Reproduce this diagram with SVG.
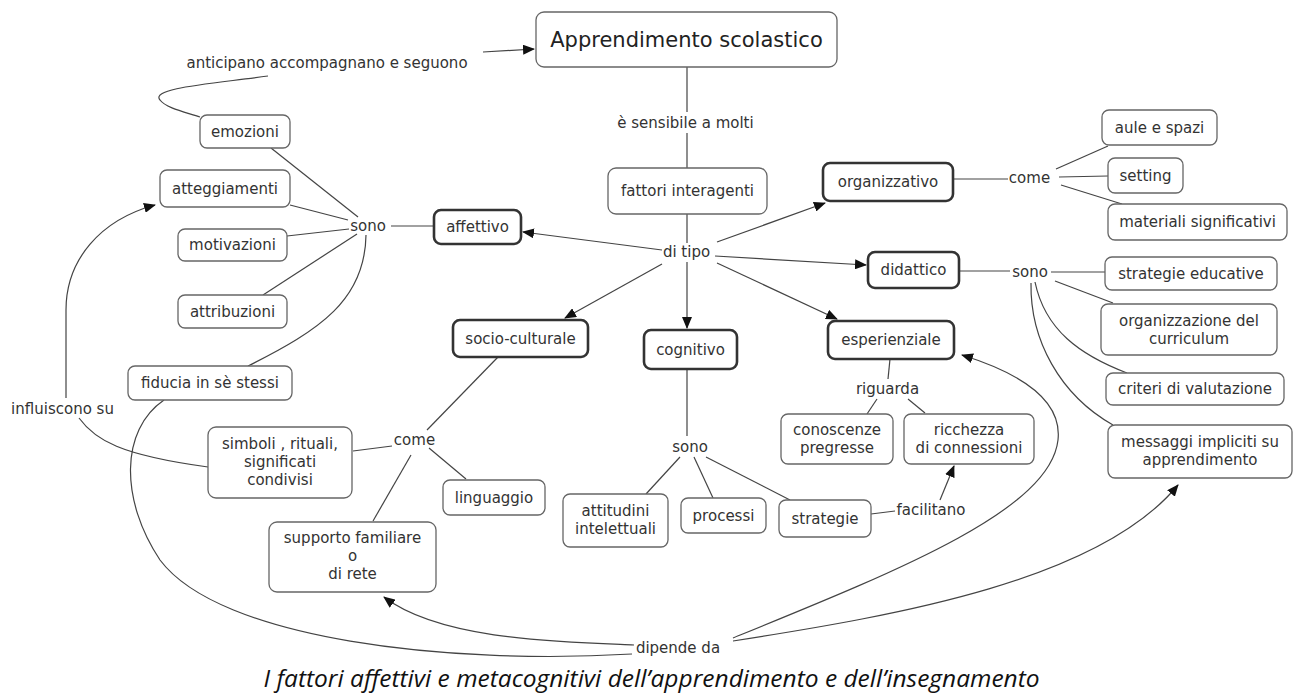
<svg xmlns="http://www.w3.org/2000/svg" width="1295" height="693" viewBox="0 0 1295 693">
<style>
  .n rect { fill: #fff; stroke: #666; stroke-width: 1.3; }
  .b rect { stroke: #333; stroke-width: 2.6; }
  text { font-family: "DejaVu Sans", Verdana, sans-serif; font-size: 15px; fill: #333; text-anchor: middle; }
  .title { font-size: 21px; fill: #222; }
  .lk { font-size: 15px; }
  #connectors path, #connectors line { fill: none; stroke: #444; stroke-width: 1.2; }
  .cap { font-family: "Open Sans", "Liberation Sans", sans-serif; font-style: italic; font-size: 24.5px; fill: #111; }
</style>
<defs>
  <marker id="ah" viewBox="0 0 12 10" refX="11" refY="5" markerWidth="12" markerHeight="10" markerUnits="userSpaceOnUse" orient="auto">
    <path d="M0,0 L12,5 L0,10 z" fill="#111"/>
  </marker>
</defs>
<rect width="1295" height="693" fill="#fff"/>

<g id="connectors">
  <line x1="483" y1="52" x2="534" y2="49" marker-end="url(#ah)"/>
  <path d="M268,76 C210,84 150,88 160,100 C166,108 185,112 200,117"/>
  <line x1="687" y1="67" x2="687" y2="112"/>
  <line x1="687" y1="133" x2="687" y2="168"/>
  <line x1="687" y1="214" x2="687" y2="243"/>
  <line x1="662" y1="250" x2="523" y2="232" marker-end="url(#ah)"/>
  <line x1="717" y1="242" x2="825" y2="203" marker-end="url(#ah)"/>
  <line x1="715" y1="256" x2="866" y2="265" marker-end="url(#ah)"/>
  <line x1="717" y1="263" x2="837" y2="319" marker-end="url(#ah)"/>
  <line x1="687" y1="262" x2="687" y2="328" marker-end="url(#ah)"/>
  <line x1="662" y1="264" x2="565" y2="318" marker-end="url(#ah)"/>
  <line x1="953" y1="179" x2="1008" y2="179"/>
  <line x1="1056" y1="169" x2="1108" y2="146"/>
  <line x1="1059" y1="177" x2="1108" y2="176"/>
  <line x1="1061" y1="185" x2="1122" y2="204"/>
  <line x1="959" y1="271" x2="1010" y2="271"/>
  <line x1="1051" y1="272" x2="1105" y2="272"/>
  <line x1="1055" y1="281" x2="1113" y2="303"/>
  <path d="M1035,282 C1045,330 1080,355 1127,373"/>
  <path d="M1031,283 C1030,340 1060,395 1113,425"/>
  <line x1="391" y1="226" x2="434" y2="226"/>
  <line x1="271" y1="148" x2="358" y2="217"/>
  <line x1="290" y1="205" x2="348" y2="220"/>
  <line x1="287" y1="236" x2="349" y2="229"/>
  <line x1="263" y1="295" x2="357" y2="234"/>
  <path d="M366,235 C365,300 320,330 248,366"/>
  <path d="M66,398 L66,310 C66,260 100,220 155,205" marker-end="url(#ah)"/>
  <path d="M79,418 C95,440 120,455 208,467"/>
  <line x1="498" y1="357" x2="427" y2="430"/>
  <line x1="353" y1="451" x2="392" y2="446"/>
  <line x1="429" y1="448" x2="466" y2="479"/>
  <line x1="411" y1="455" x2="373" y2="521"/>
  <line x1="687" y1="369" x2="687" y2="436"/>
  <line x1="680" y1="457" x2="646" y2="494"/>
  <line x1="694" y1="457" x2="713" y2="498"/>
  <line x1="706" y1="457" x2="790" y2="500"/>
  <line x1="890" y1="359" x2="888" y2="379"/>
  <line x1="877" y1="399" x2="867" y2="414"/>
  <line x1="908" y1="399" x2="925" y2="413"/>
  <line x1="871" y1="514" x2="895" y2="511"/>
  <line x1="940" y1="500" x2="954" y2="466" marker-end="url(#ah)"/>
  <path d="M634,645 C560,642 440,640 384,597" marker-end="url(#ah)"/>
  <path d="M164,400 C120,430 120,500 160,560 C220,640 450,665 632,654"/>
  <path d="M733,638 C900,570 1050,510 1058,440 C1063,395 1010,370 962,355" marker-end="url(#ah)"/>
  <path d="M733,641 C900,615 1100,580 1178,485" marker-end="url(#ah)"/>
</g>

<g id="n-title" class="n"><rect x="536" y="12" width="301" height="55" rx="8"/><text class="title" x="686.5" y="47">Apprendimento scolastico</text></g>
<g id="n-emozioni" class="n"><rect x="200" y="115" width="90" height="33" rx="7"/><text x="245" y="136.5">emozioni</text></g>
<g id="n-atteggiamenti" class="n"><rect x="160" y="170" width="130" height="37" rx="7"/><text x="225" y="193.5">atteggiamenti</text></g>
<g id="n-motivazioni" class="n"><rect x="178" y="229" width="109" height="32" rx="7"/><text x="232.5" y="250">motivazioni</text></g>
<g id="n-attribuzioni" class="n"><rect x="178" y="295" width="109" height="33" rx="7"/><text x="232.5" y="316.5">attribuzioni</text></g>
<g id="n-fiducia" class="n"><rect x="128" y="366" width="164" height="34" rx="7"/><text x="210" y="388">fiducia in sè stessi</text></g>
<g id="n-affettivo" class="n b"><rect x="434" y="210" width="87" height="34" rx="7"/><text x="477.5" y="232">affettivo</text></g>
<g id="n-fattori" class="n"><rect x="608" y="168" width="159" height="46" rx="8"/><text x="687.5" y="196">fattori interagenti</text></g>
<g id="n-organizzativo" class="n b"><rect x="823" y="163" width="130" height="38" rx="7"/><text x="888" y="187">organizzativo</text></g>
<g id="n-aule" class="n"><rect x="1102" y="110" width="115" height="35" rx="7"/><text x="1159.5" y="132.5">aule e spazi</text></g>
<g id="n-setting" class="n"><rect x="1108" y="158" width="75" height="35" rx="7"/><text x="1145.5" y="180.5">setting</text></g>
<g id="n-materiali" class="n"><rect x="1108" y="204" width="179" height="36" rx="7"/><text x="1197.5" y="227">materiali significativi</text></g>
<g id="n-didattico" class="n b"><rect x="868" y="252" width="91" height="36" rx="7"/><text x="913.5" y="275">didattico</text></g>
<g id="n-strategie-edu" class="n"><rect x="1105" y="257" width="172" height="33" rx="7"/><text x="1191" y="278.5">strategie educative</text></g>
<g id="n-curriculum" class="n"><rect x="1101" y="304" width="176" height="51" rx="7"/><text x="1189" y="326">organizzazione del</text><text x="1189" y="344">curriculum</text></g>
<g id="n-criteri" class="n"><rect x="1106" y="373" width="178" height="32" rx="7"/><text x="1195" y="394">criteri di valutazione</text></g>
<g id="n-messaggi" class="n"><rect x="1108" y="425" width="184" height="53" rx="7"/><text x="1200" y="447">messaggi impliciti su</text><text x="1200" y="465">apprendimento</text></g>
<g id="n-socio" class="n b"><rect x="453" y="320" width="135" height="37" rx="7"/><text x="520.5" y="343.5">socio-culturale</text></g>
<g id="n-cognitivo" class="n b"><rect x="644" y="330" width="93" height="39" rx="7"/><text x="690.5" y="354.5">cognitivo</text></g>
<g id="n-esperienziale" class="n b"><rect x="828" y="321" width="126" height="38" rx="7"/><text x="891" y="345">esperienziale</text></g>
<g id="n-conoscenze" class="n"><rect x="781" y="414" width="112" height="50" rx="7"/><text x="837" y="435">conoscenze</text><text x="837" y="453">pregresse</text></g>
<g id="n-ricchezza" class="n"><rect x="904" y="414" width="130" height="50" rx="7"/><text x="969" y="435">ricchezza</text><text x="969" y="453">di connessioni</text></g>
<g id="n-attitudini" class="n"><rect x="563" y="494" width="105" height="53" rx="7"/><text x="615.5" y="516">attitudini</text><text x="615.5" y="534">intelettuali</text></g>
<g id="n-processi" class="n"><rect x="681" y="498" width="85" height="35" rx="7"/><text x="723.5" y="520.5">processi</text></g>
<g id="n-strategie" class="n"><rect x="779" y="500" width="92" height="37" rx="7"/><text x="825" y="523.5">strategie</text></g>
<g id="n-simboli" class="n"><rect x="208" y="427" width="144" height="71" rx="8"/><text x="280" y="449">simboli , rituali,</text><text x="280" y="467">significati</text><text x="280" y="485">condivisi</text></g>
<g id="n-linguaggio" class="n"><rect x="443" y="480" width="102" height="35" rx="7"/><text x="494" y="502.5">linguaggio</text></g>
<g id="n-supporto" class="n"><rect x="269" y="522" width="167" height="70" rx="8"/><text x="352.5" y="543">supporto familiare</text><text x="352.5" y="561">o</text><text x="352.5" y="579">di rete</text></g>

<g id="links">
  <text class="lk" x="327" y="68">anticipano accompagnano e seguono</text>
  <text class="lk" x="685.5" y="128">è sensibile a molti</text>
  <text class="lk" x="368" y="231">sono</text>
  <text class="lk" x="686.5" y="257">di tipo</text>
  <text class="lk" x="1029.5" y="183">come</text>
  <text class="lk" x="1030" y="277">sono</text>
  <text class="lk" x="887.5" y="394">riguarda</text>
  <text class="lk" x="690" y="452">sono</text>
  <text class="lk" x="931" y="515">facilitano</text>
  <text class="lk" x="678" y="653">dipende da</text>
  <text class="lk" x="414.5" y="445">come</text>
  <text class="lk" x="62.5" y="414">influiscono su</text>
</g>

<text class="cap" x="651.5" y="687">I fattori affettivi e metacognitivi dell’apprendimento e dell’insegnamento</text>
</svg>
